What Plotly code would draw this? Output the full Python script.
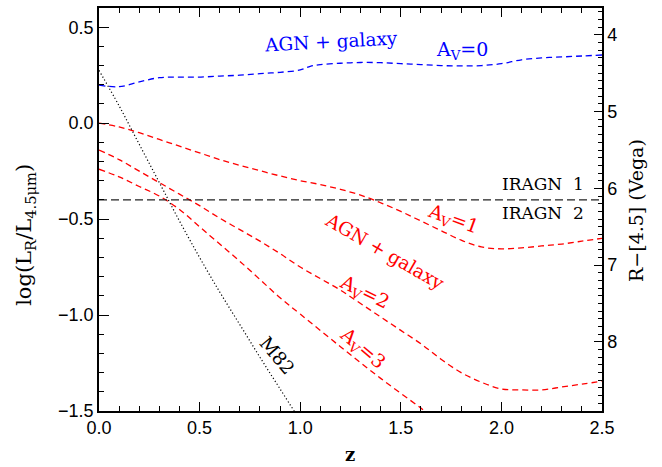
import plotly.graph_objects as go

# ---------------- data ----------------
z_agn0 = [0.0, 0.1, 0.2, 0.3, 0.4, 0.5, 0.6, 0.7, 0.8, 0.9, 1.0, 1.05, 1.1, 1.2, 1.3, 1.4, 1.5, 1.6, 1.7, 1.8, 1.9, 2.0, 2.1, 2.2, 2.3, 2.4, 2.5]
y_agn0 = [0.198, 0.19, 0.215, 0.237, 0.24, 0.24, 0.245, 0.25, 0.258, 0.265, 0.277, 0.296, 0.305, 0.312, 0.316, 0.315, 0.31, 0.305, 0.30, 0.298, 0.30, 0.31, 0.33, 0.34, 0.345, 0.35, 0.355]

z_grid = [0.0, 0.1, 0.2, 0.3, 0.4, 0.5, 0.6, 0.7, 0.8, 0.9, 1.0, 1.1, 1.2, 1.3, 1.4, 1.5, 1.6, 1.7, 1.8, 1.9, 2.0, 2.1, 2.2, 2.3, 2.4, 2.5]
y_av1 = [0.0, -0.02, -0.05, -0.085, -0.12, -0.155, -0.19, -0.22, -0.248, -0.275, -0.30, -0.32, -0.345, -0.375, -0.415, -0.46, -0.51, -0.56, -0.61, -0.645, -0.655, -0.65, -0.64, -0.63, -0.615, -0.60]
y_av2 = [-0.14, -0.19, -0.25, -0.31, -0.37, -0.43, -0.495, -0.555, -0.615, -0.68, -0.75, -0.81, -0.87, -0.94, -1.01, -1.08, -1.15, -1.23, -1.30, -1.35, -1.385, -1.39, -1.39, -1.375, -1.36, -1.345]

z_av3 = [0.0, 0.1, 0.2, 0.3, 0.4, 0.5, 0.6, 0.7, 0.8, 0.9, 1.0, 1.2, 1.4, 1.6, 1.7]
y_av3 = [-0.24, -0.28, -0.33, -0.38, -0.45, -0.54, -0.63, -0.72, -0.815, -0.91, -0.995, -1.165, -1.33, -1.485, -1.565]

z_m82 = [0.0, 0.1, 0.2, 0.3, 0.4, 0.5, 0.6, 0.7, 0.8, 0.9, 1.0]
y_m82 = [0.275, 0.09, -0.11, -0.31, -0.51, -0.70, -0.88, -1.05, -1.22, -1.385, -1.55]

z_limits = [0.0, 2.5]
iragn_cut = [-0.4, -0.4]

# R-[4.5](Vega) = (C - log(LR/L4.5)) / 0.4
mag_zero = 2.06
y_left_range = [-1.5, 0.6]
y_right_range = [(mag_zero - y_left_range[0]) / 0.4, (mag_zero - y_left_range[1]) / 0.4]

RED = "#ff0000"
BLUE = "#0000ff"
LAB_FONT = "DejaVu Serif"
TICK_FONT = "Liberation Sans"

fig = go.Figure()

fig.add_trace(go.Scatter(x=z_agn0, y=y_agn0, mode="lines",
                         line=dict(color=BLUE, width=1.3, dash="6px,4px", shape="spline")))
fig.add_trace(go.Scatter(x=z_grid, y=y_av1, mode="lines",
                         line=dict(color=RED, width=1.3, dash="6px,4px", shape="spline")))
fig.add_trace(go.Scatter(x=z_grid, y=y_av2, mode="lines",
                         line=dict(color=RED, width=1.3, dash="6px,4px", shape="spline")))
fig.add_trace(go.Scatter(x=z_av3, y=y_av3, mode="lines",
                         line=dict(color=RED, width=1.3, dash="6px,4px", shape="spline")))
fig.add_trace(go.Scatter(x=z_m82, y=y_m82, mode="lines",
                         line=dict(color="black", width=1.2, dash="1.2px,2.3px", shape="spline")))
fig.add_trace(go.Scatter(x=z_limits, y=iragn_cut, mode="lines",
                         line=dict(color="#222222", width=1.3, dash="8px,4px")))
# invisible trace to activate the right-hand magnitude axis
fig.add_trace(go.Scatter(x=z_agn0, y=[(mag_zero - v) / 0.4 for v in y_agn0], yaxis="y2",
                         mode="lines", line=dict(width=0), opacity=0, hoverinfo="skip"))

def ann(x, y, text, color, angle=0, size=18.5, xanchor="center", font=LAB_FONT):
    fig.add_annotation(x=x, y=y, xref="x", yref="y", text=text, showarrow=False,
                       textangle=angle, xanchor=xanchor, yanchor="middle",
                       font=dict(family=font, size=size, color=color))

ann(1.153, 0.427, "AGN + galaxy", BLUE, angle=-3)
ann(1.804, 0.378, "A<sub>V</sub>=0", BLUE, size=19)
ann(2.42, -0.319, "IRAGN  1", "black", xanchor="right", size=17)
ann(2.42, -0.470, "IRAGN  2", "black", xanchor="right", size=17)
ann(1.759, -0.501, "A<sub>V</sub>=1", RED, angle=20, size=19)
ann(1.421, -0.667, "AGN + galaxy", RED, angle=30)
ann(1.317, -0.884, "A<sub>V</sub>=2", RED, angle=26, size=19)
ann(1.307, -1.175, "A<sub>V</sub>=3", RED, angle=40, size=19)
ann(0.885, -1.211, "M82", "black", angle=50)

# axis titles
fig.add_annotation(x=(350 - 99) / 503, y=-(455 - 411) / 405, xref="paper", yref="paper",
                   text="<b>z</b>", showarrow=False, xanchor="center", yanchor="middle",
                   font=dict(family=LAB_FONT, size=18, color="black"))
fig.add_annotation(x=-(99 - 25) / 503, y=(411 - 234) / 405, xref="paper", yref="paper",
                   text="log(L<sub>R</sub>/L<sub>4.5μm</sub>)", showarrow=False, textangle=-90,
                   xanchor="center", yanchor="middle",
                   font=dict(family=LAB_FONT, size=21, color="black"))
fig.add_annotation(x=1 + (636 - 602) / 503, y=(411 - 210) / 405, xref="paper", yref="paper",
                   text="R−[4.5] (Vega)", showarrow=False, textangle=-90,
                   xanchor="center", yanchor="middle",
                   font=dict(family=LAB_FONT, size=19, color="black"))

fig.update_layout(
    width=662, height=467,
    margin=dict(l=99, r=60, t=6, b=56),
    paper_bgcolor="white", plot_bgcolor="white",
    showlegend=False,
    xaxis=dict(range=z_limits, tickmode="linear", tick0=0, dtick=0.5,
               tickformat=".1f", ticks="inside", ticklen=9, tickwidth=1.2, tickcolor="black",
               minor=dict(dtick=0.1, ticks="inside", ticklen=5, tickwidth=1, tickcolor="black"),
               showline=True, linecolor="black", linewidth=1.5, mirror="ticks",
               showgrid=False, zeroline=False,
               tickfont=dict(family=TICK_FONT, size=18, color="black")),
    yaxis=dict(range=y_left_range, tickmode="linear", tick0=0, dtick=0.5,
               tickformat=".1f", ticks="inside", ticklen=10, tickwidth=1.2, tickcolor="black",
               minor=dict(dtick=0.1, ticks="inside", ticklen=5, tickwidth=1, tickcolor="black"),
               showline=True, linecolor="black", linewidth=1.5,
               showgrid=False, zeroline=False,
               tickfont=dict(family=TICK_FONT, size=18, color="black")),
    yaxis2=dict(range=y_right_range, overlaying="y", side="right",
                tickmode="linear", tick0=0, dtick=1,
                ticks="inside", ticklen=8, tickwidth=1.2, tickcolor="black",
                minor=dict(dtick=0.1, ticks="inside", ticklen=4, tickwidth=1, tickcolor="black"),
                showline=True, linecolor="black", linewidth=1.5,
                showgrid=False, zeroline=False,
                tickfont=dict(family=TICK_FONT, size=18, color="black")),
)

fig.write_html("out.html")
